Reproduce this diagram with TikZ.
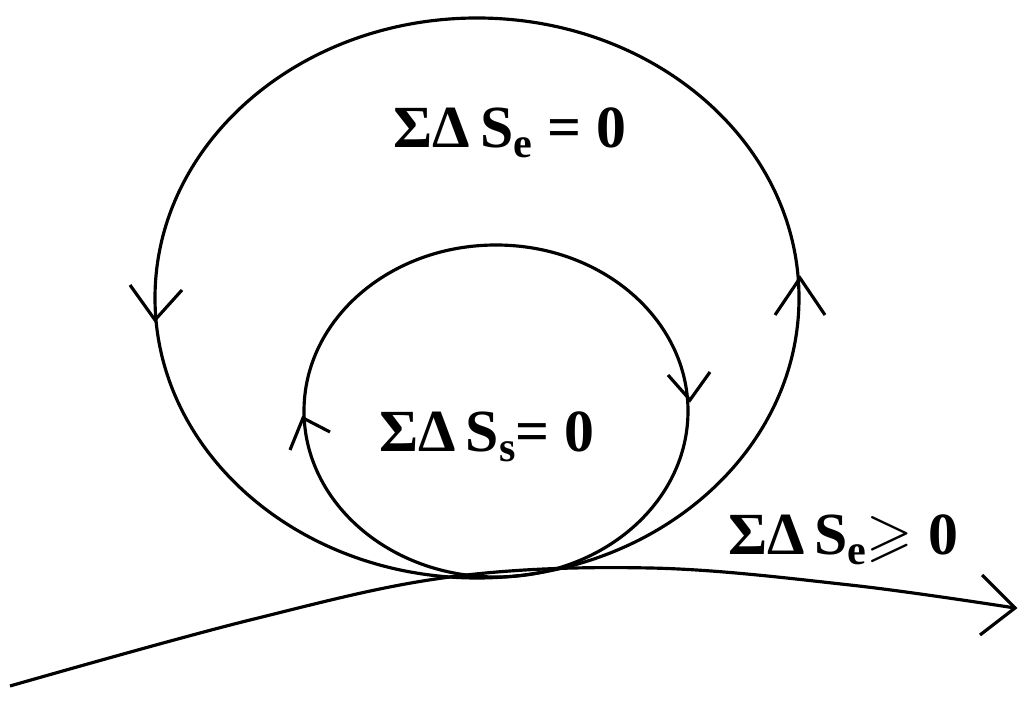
\documentclass[tikz,border=0pt]{standalone}
\usepackage{amssymb}
\usepackage{fontspec}
\setmainfont{Liberation Serif}
\newcommand{\sbx}[1]{\raisebox{-0.35ex}{\fontsize{12}{12}\selectfont\bfseries #1}}
\begin{document}
\begin{tikzpicture}[x=0.01cm,y=-0.01cm,line width=0.9pt,
  lbl/.style={font=\fontsize{17}{19}\selectfont\bfseries,inner sep=0pt}]
\useasboundingbox (0,0) rectangle (1024,713);
\draw (477,298) ellipse [x radius=322, y radius=280];
\draw (496,411) ellipse [x radius=192, y radius=166];
\draw plot[smooth,tension=0.6] coordinates {(10,686) (250,620) (450,577) (650,568) (850,585) (1015,608)};
% chevrons
\draw (130,285) -- (155,320) -- (182,290);
\draw (775,315) -- (800,278) -- (825,315);
\draw (668,375) -- (690,400) -- (710,372);
\draw (290,450) -- (303,418) -- (330,432);
\draw (982,575) -- (1015,608) -- (980,635);
\node[lbl] (t1) at (510,133) {ΣΔ\,S\sbx{e} = 0};
\node[lbl] (t2) at (487,437) {ΣΔ\,S\sbx{s}= 0};
\node[lbl] (t3) at (843,540) {ΣΔ\,S\sbx{e}$\geqslant$ 0};
\end{tikzpicture}
\end{document}
